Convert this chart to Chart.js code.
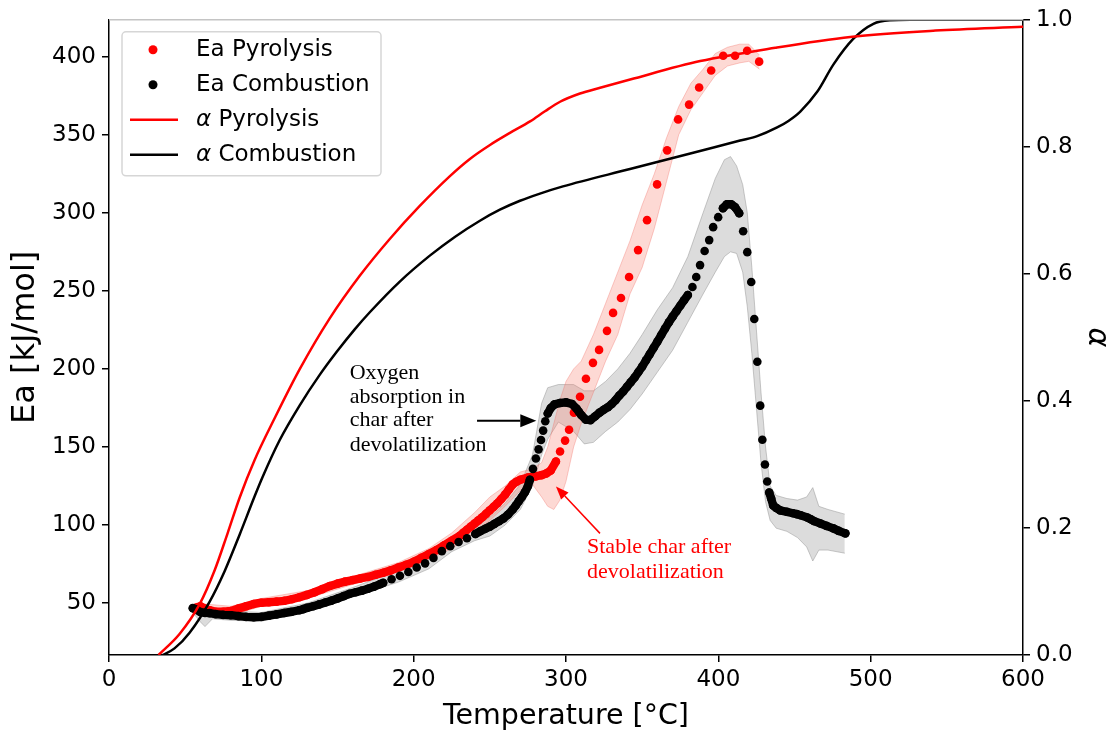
<!DOCTYPE html>
<html><head><meta charset="utf-8">
<script src="https://cdn.jsdelivr.net/npm/chart.js@4.4.1/dist/chart.umd.min.js"></script>
<style>html,body{margin:0;padding:0;background:#fff}#wrap{width:1112px;height:731px}</style>
</head><body><div id="wrap"><canvas id="c" width="1112" height="731"></canvas></div>
<script>
// ---------- tick labels ----------
const xTicks = [0, 100, 200, 300, 400, 500, 600];
const eaTicks = [50, 100, 150, 200, 250, 300, 350, 400];
const alphaTicks = [0, 0.2, 0.4, 0.6, 0.8, 1.0];

// ---------- Ea pyrolysis (red dots) ----------
const pyroEaT = [57, 60, 63, 66, 70, 75, 80, 85, 90, 95, 100, 105, 110, 115, 120, 125, 130, 135, 140, 145, 150, 155, 160, 165, 170, 175, 180, 185, 190, 195, 200, 205, 210, 215, 220, 225, 230, 232.5, 235, 237.5, 240, 242.5, 245, 247.5, 250, 252.5, 255, 257.5, 260, 262.5, 265, 267.5, 270, 275, 280, 284, 287, 290, 293.4, 296.1, 299.4, 302, 305.2, 309.2, 313.1, 317.7, 321.7, 326.9, 330.9, 336.1, 341.4, 347.3, 353.2, 359.8, 366.4, 373.6, 380.8, 387.4, 395.3, 403.2, 411, 418.9, 426.8];
const pyroEa = [47, 48, 46.5, 45.5, 44.5, 44.5, 45, 46.5, 48, 49.5, 50.3, 50.6, 51, 51.5, 52.5, 53.8, 55.3, 57, 59, 61, 62.5, 63.8, 64.8, 65.8, 66.8, 68.2, 69.5, 71, 72.8, 74.5, 76.5, 79, 81.5, 84, 87, 90, 93, 95, 97, 99, 101, 103, 105, 107.2, 109.5, 111.7, 114, 116.7, 119.5, 122.8, 126, 127.8, 129, 130.5, 131.2, 132, 133, 135, 140.7, 147.1, 154.1, 161.1, 172, 182.2, 193.7, 203.9, 212.2, 224.4, 235.9, 245.4, 258.9, 276.1, 295.3, 318.2, 340, 359.8, 369.3, 380.2, 391.1, 400.6, 400.6, 403.8, 396.8];

// ---------- Ea combustion (black dots) ----------
const combEaT = [55, 57, 60, 63, 66, 70, 75, 80, 85, 90, 95, 100, 105, 110, 115, 120, 125, 127.5, 130, 134, 138, 142, 146, 150, 154, 158, 162, 166, 170, 174, 178, 180, 185.5, 191, 196.5, 202, 207.5, 213, 218.5, 224, 229.5, 235, 240.5, 244, 247, 250, 253, 256, 259, 262, 265, 267, 269, 271, 273, 275, 276.3, 278.3, 280.2, 282, 283.6, 285, 286.4, 288, 290, 292.5, 296, 300, 304, 307, 308.5, 310, 313, 316, 319, 322, 325, 327.5, 330, 332.5, 335, 337.5, 340, 342.5, 345, 347.5, 350, 352.5, 355, 357.5, 360, 362.5, 365, 367.5, 370, 372.5, 375, 377.5, 380, 383, 385.5, 388, 391, 394, 396.6, 399.9, 403, 405.6, 408.4, 411, 413.7, 416.3, 419, 421.6, 423.6, 425.6, 427.5, 428.9, 430.6, 432.1, 433.4, 434.7, 436, 438, 440.6, 445, 449, 451.5, 454, 458.4, 460.7, 463, 467, 471, 475.5, 479, 483.4];
const combEa = [46.8, 46, 44.3, 43.8, 43.6, 43, 42.5, 42.3, 41.7, 41.2, 41, 41.2, 42, 42.8, 43.7, 44.5, 45.5, 46.2, 47, 48, 49.2, 50.4, 51.6, 53, 54.5, 56, 57, 58, 59.2, 60.6, 62.2, 63, 65.3, 67.5, 70, 72.8, 75.5, 79, 83.3, 86.5, 89.2, 91.6, 94.3, 96.2, 97.6, 99, 100.8, 102.5, 104.3, 106.8, 110, 112.5, 115.3, 118, 121, 125, 129, 136, 142.6, 148.5, 154.5, 160.5, 166.5, 171.5, 175, 177.3, 178.2, 178.6, 177.5, 174.5, 172.5, 170.5, 167.5, 167.2, 169.5, 172, 174, 175.5, 177.5, 180, 183, 185.5, 188.5, 191.5, 194.5, 198, 201.5, 205.5, 209.5, 213.5, 217.5, 221.7, 225.8, 229.8, 233.5, 237, 240.5, 244, 247.4, 252.5, 258.9, 266.5, 275.5, 282.5, 290.8, 297.2, 302.9, 305.5, 305.5, 303.6, 299.7, 288.2, 274.8, 255.7, 232, 204.6, 176.5, 154.7, 138.8, 127.9, 120.9, 117, 112.6, 111, 109.4, 108.5, 107.6, 107, 106.3, 104.9, 103.7, 102.5, 101, 99.5, 97.9, 96.3, 94.7];

// ---------- uncertainty bands ----------
const pyroBandT = [57, 80, 100, 130, 160, 190, 210, 225, 240, 250, 260, 270, 278, 284, 288, 292, 296, 300, 305, 310, 318, 326, 334, 342, 350, 358, 366, 374, 382, 390, 398, 406, 414, 420, 427];
const pyroBandLo = [44, 42, 48, 53, 62, 70, 78, 85, 95, 103, 112, 122, 126, 118, 112, 110, 116, 128, 150, 165, 185, 205, 222, 248, 265, 290, 320, 350, 366, 377, 388, 394, 396, 397, 392];
const pyroBandHi = [50, 48, 53, 58, 67, 76, 85, 95, 108, 118, 125, 134, 136, 140, 150, 165, 180, 192, 200, 205, 222, 242, 262, 282, 305, 325, 348, 368, 383, 392, 402, 406, 408, 408, 401];

const combBandT = [55, 60, 63, 68, 80, 100, 130, 160, 190, 210, 225, 240, 250, 260, 270, 278, 284, 288, 295, 305, 312, 318, 326, 334, 342, 350, 360, 370, 380, 390, 398, 404, 408, 412, 416, 419, 422, 425, 428, 431, 434, 438, 445, 452, 458, 462, 466, 472, 483];
const combBandLo = [44, 38, 35, 40, 39, 38.5, 44.5, 54, 63.5, 72, 83, 90, 93, 100, 110, 125, 145, 155, 166, 160, 152, 153, 160, 166, 174, 184, 198, 212, 230, 248, 262, 272, 275, 274, 262, 240, 210, 175, 140, 115, 103, 98, 96, 92, 86, 77, 84, 84, 82];
const combBandHi = [49, 47, 46, 46, 45, 44, 50, 60, 71, 80, 91, 99, 105, 114, 126, 145, 178, 188, 190, 190, 186, 186, 192, 200, 210, 222, 238, 252, 272, 300, 322, 334, 336, 330, 318, 300, 265, 225, 185, 150, 125, 119, 117, 116, 118, 124, 112, 110, 107];

// ---------- conversion alpha (right axis) ----------
const alphaPyroT = [32.5, 46.3, 59.5, 69.3, 77.9, 85.8, 95.6, 108.8, 125.2, 144.9, 164.6, 184.3, 204, 223.8, 236.9, 250.1, 263.2, 276.4, 286.2, 296.1, 309.2, 322.4, 342.1, 388.1, 437.4, 486.6, 542.5, 600];
const alphaPyro = [0, 0.033, 0.080, 0.133, 0.192, 0.248, 0.307, 0.373, 0.450, 0.530, 0.597, 0.655, 0.707, 0.754, 0.781, 0.803, 0.822, 0.840, 0.856, 0.871, 0.884, 0.893, 0.906, 0.935, 0.956, 0.973, 0.983, 0.989];
const alphaCombT = [35.2, 43, 52.9, 66, 75.9, 85.8, 95.6, 100.9, 112, 125.2, 138.3, 149.5, 161.3, 171.2, 190.9, 210.6, 227, 243.5, 256.6, 269.8, 282.9, 298, 342, 381.6, 414.3, 425.5, 438.6, 446, 453.8, 465, 475.5, 488.7, 501.8, 512.9, 526, 600];
const alphaComb = [0, 0.0104, 0.0352, 0.0838, 0.132, 0.1898, 0.2499, 0.2807, 0.3381, 0.3931, 0.441, 0.4774, 0.5127, 0.5396, 0.5879, 0.6287, 0.6582, 0.6837, 0.701, 0.7151, 0.7264, 0.7377, 0.765, 0.7895, 0.8099, 0.8168, 0.8305, 0.8408, 0.8556, 0.887, 0.9294, 0.9702, 0.9937, 0.9992, 1.0, 1.0];

// ---------- annotations (data coordinates: T, Ea) ----------
const oxyLines = ['Oxygen', 'absorption in', 'char after', 'devolatilization'];
const oxyT = 158;
const oxyEa = [197.5, 182.2, 166.9, 151];
const oxyArrow = [[241.6, 166.9], [280.5, 166.9]];
const charLines = ['Stable char after', 'devolatilization'];
const charT = 313.8;
const charEa = [85.8, 69.8];
const charArrow = [[322.3, 94.7], [293.4, 124.7]];

// ---------- helpers ----------
const pts = (xs, ys) => xs.map((x, i) => ({x: x, y: ys[i]}));
const seg = (color, gap) => ctx => Math.hypot(ctx.p1.x - ctx.p0.x, ctx.p1.y - ctx.p0.y) < gap ? color : 'rgba(0,0,0,0)';
const RED = '#ff0000', BLACK = '#000000';
const SANS = 'DejaVu Sans';

const legendPlugin = {
  id: 'boxLegend',
  afterDraw(chart) {
    const ctx = chart.ctx, a = chart.chartArea;
    const items = chart.data.datasets.filter(d => d.legendRank).sort((p, q) => p.legendRank - q.legendRank);
    const L = a.left + 13, T = a.top + 12, W = 259, H = 144;
    ctx.save();
    ctx.fillStyle = 'rgba(255,255,255,0.85)';
    ctx.strokeStyle = '#d6d6d6';
    ctx.lineWidth = 1.5;
    ctx.beginPath();
    ctx.roundRect(L, T, W, H, 4);
    ctx.fill(); ctx.stroke();
    ctx.textBaseline = 'middle';
    items.forEach((d, i) => {
      const y = T + 18 + i * 35;
      if (d.legendKind === 'dot') {
        ctx.fillStyle = d.pointBackgroundColor;
        ctx.beginPath(); ctx.arc(L + 31, y, 4.5, 0, Math.PI * 2); ctx.fill();
      } else {
        ctx.strokeStyle = d.borderColor; ctx.lineWidth = 2.5;
        ctx.beginPath(); ctx.moveTo(L + 8, y); ctx.lineTo(L + 56, y); ctx.stroke();
      }
      ctx.fillStyle = '#000';
      let x = L + 74;
      let label = d.label;
      if (label.startsWith('α')) {
        ctx.font = 'italic 23px "' + SANS + '"';
        ctx.fillText('α', x, y);
        x += ctx.measureText('α ').width;
        label = label.slice(2);
      }
      ctx.font = '23px "' + SANS + '"';
      ctx.fillText(label, x, y);
    });
    ctx.restore();
  }
};

function arrow(ctx, x0, y0, x1, y1, color, lw, hl, hw) {
  const ang = Math.atan2(y1 - y0, x1 - x0);
  const bx = x1 - hl * Math.cos(ang), by = y1 - hl * Math.sin(ang);
  ctx.strokeStyle = color; ctx.fillStyle = color; ctx.lineWidth = lw;
  ctx.beginPath(); ctx.moveTo(x0, y0); ctx.lineTo(bx, by); ctx.stroke();
  ctx.beginPath();
  ctx.moveTo(x1, y1);
  ctx.lineTo(bx + hw / 2 * Math.sin(ang), by - hw / 2 * Math.cos(ang));
  ctx.lineTo(bx - hw / 2 * Math.sin(ang), by + hw / 2 * Math.cos(ang));
  ctx.closePath(); ctx.fill();
}

const notePlugin = {
  id: 'notes',
  afterDraw(chart) {
    const ctx = chart.ctx, sx = chart.scales.x, sy = chart.scales.yEa, a = chart.chartArea;
    ctx.save();
    ctx.strokeStyle = '#c4c4c4'; ctx.lineWidth = 1.5;
    ctx.beginPath(); ctx.moveTo(a.left, a.top); ctx.lineTo(a.right, a.top); ctx.stroke();
    ctx.font = '22px "Liberation Serif"';
    ctx.textBaseline = 'middle'; ctx.textAlign = 'left';
    ctx.fillStyle = '#000';
    oxyLines.forEach((s, i) => ctx.fillText(s, sx.getPixelForValue(oxyT), sy.getPixelForValue(oxyEa[i])));
    arrow(ctx, sx.getPixelForValue(oxyArrow[0][0]), sy.getPixelForValue(oxyArrow[0][1]),
      sx.getPixelForValue(oxyArrow[1][0]), sy.getPixelForValue(oxyArrow[1][1]), '#000', 2, 16, 13);
    ctx.fillStyle = RED;
    charLines.forEach((s, i) => ctx.fillText(s, sx.getPixelForValue(charT), sy.getPixelForValue(charEa[i])));
    arrow(ctx, sx.getPixelForValue(charArrow[0][0]), sy.getPixelForValue(charArrow[0][1]),
      sx.getPixelForValue(charArrow[1][0]), sy.getPixelForValue(charArrow[1][1]), RED, 1.5, 13, 10);
    ctx.restore();
  }
};

const bandBase = {type: 'line', pointRadius: 0, tension: 0, yAxisID: 'yEa', order: 3};
const tickFont = {family: SANS, size: 23};
const axisGrid = {drawOnChartArea: false, drawTicks: true, tickLength: 7, color: '#000', lineWidth: 1.5};
const axisBorder = {display: true, color: '#000', width: 1.5};

new Chart(document.getElementById('c'), {
  type: 'line',
  data: {
    datasets: [
      {label: 'α Pyrolysis', legendKind: 'line', legendRank: 3, data: pts(alphaPyroT, alphaPyro), yAxisID: 'yA',
        borderColor: RED, borderWidth: 2.5, pointRadius: 0, cubicInterpolationMode: 'monotone', order: 0, fill: false},
      {label: 'α Combustion', legendKind: 'line', legendRank: 4, data: pts(alphaCombT, alphaComb), yAxisID: 'yA',
        borderColor: BLACK, borderWidth: 2.5, pointRadius: 0, cubicInterpolationMode: 'monotone', order: 0, fill: false},
      {label: 'Ea Combustion', legendKind: 'dot', legendRank: 2, data: pts(combEaT, combEa), yAxisID: 'yEa',
        pointRadius: 4.3, pointBackgroundColor: BLACK, pointBorderWidth: 0, borderWidth: 8.4,
        borderCapStyle: 'round', borderJoinStyle: 'round', tension: 0, fill: false,
        segment: {borderColor: seg(BLACK, 7.8)}, borderColor: BLACK, order: 1},
      {label: 'Ea Pyrolysis', legendKind: 'dot', legendRank: 1, data: pts(pyroEaT, pyroEa), yAxisID: 'yEa',
        pointRadius: 4.3, pointBackgroundColor: RED, pointBorderWidth: 0, borderWidth: 8.4,
        borderCapStyle: 'round', borderJoinStyle: 'round', tension: 0, fill: false,
        segment: {borderColor: seg(RED, 10.5)}, borderColor: RED, order: 2},
      Object.assign({label: 'pyro band lo', data: pts(pyroBandT, pyroBandLo), borderColor: 'rgba(240,110,100,0.35)', borderWidth: 1, fill: false}, bandBase),
      Object.assign({label: 'pyro band hi', data: pts(pyroBandT, pyroBandHi), borderColor: 'rgba(240,110,100,0.35)', borderWidth: 1, fill: '-1', backgroundColor: 'rgba(250,128,114,0.3)'}, bandBase),
      Object.assign({label: 'comb band lo', data: pts(combBandT, combBandLo), borderColor: 'rgba(150,150,150,0.5)', borderWidth: 1, fill: false}, bandBase),
      Object.assign({label: 'comb band hi', data: pts(combBandT, combBandHi), borderColor: 'rgba(150,150,150,0.5)', borderWidth: 1, fill: '-1', backgroundColor: 'rgba(128,128,128,0.28)'}, bandBase)
    ]
  },
  options: {
    responsive: false, animation: false, devicePixelRatio: 1,
    layout: {padding: {top: 18, left: 0, right: 0, bottom: 0}},
    plugins: {legend: {display: false}, tooltip: {enabled: false}},
    scales: {
      x: {
        type: 'linear', min: 0, max: 600,
        afterBuildTicks: s => { s.ticks = xTicks.map(v => ({value: v})); },
        afterFit: s => { s.height = 76; },
        ticks: {font: tickFont, color: '#000', padding: 4, maxRotation: 0, autoSkip: false},
        grid: axisGrid, border: axisBorder,
        title: {display: true, text: 'Temperature [°C]', font: {family: SANS, size: 28.5, lineHeight: 1.0}, color: '#000', padding: {top: 0, bottom: 0}}
      },
      yEa: {
        type: 'linear', position: 'left', min: 16.8, max: 423.6,
        afterBuildTicks: s => { s.ticks = eaTicks.map(v => ({value: v})); },
        afterFit: s => { s.width = 109; },
        ticks: {font: tickFont, color: '#000', padding: 6, autoSkip: false},
        grid: axisGrid, border: axisBorder,
        title: {display: true, text: 'Ea [kJ/mol]', font: {family: SANS, size: 32, lineHeight: 1.0}, color: '#000', padding: {top: 10, bottom: 0}}
      },
      yA: {
        type: 'linear', position: 'right', min: 0, max: 1,
        afterBuildTicks: s => { s.ticks = alphaTicks.map(v => ({value: v})); },
        afterFit: s => { s.width = 89; },
        ticks: {font: tickFont, color: '#000', padding: 6, autoSkip: false, callback: v => v.toFixed(1)},
        grid: axisGrid, border: axisBorder,
        title: {display: true, text: 'α', font: {family: SANS, size: 30, style: 'italic', lineHeight: 1.0}, color: '#000', padding: {top: 0, bottom: 0}}
      }
    }
  },
  plugins: [legendPlugin, notePlugin]
});
</script>
</body></html>
